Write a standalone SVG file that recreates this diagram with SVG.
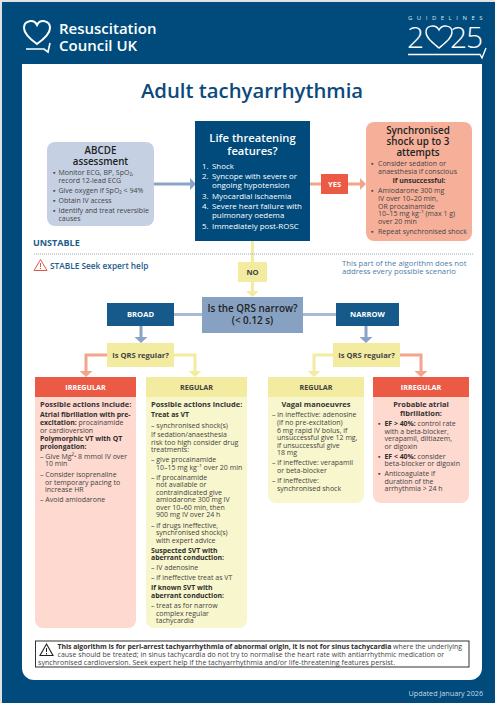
<svg xmlns="http://www.w3.org/2000/svg" width="495" height="703" viewBox="0 0 495 703">
<style>
text{font-family:"Open Sans","Noto Sans","Liberation Sans",sans-serif;font-size:7px;fill:#444}
.b{font-weight:700;fill:#2e2e2e;font-size:6.9px}
.c{text-anchor:middle}
.h{font-size:7.5px;font-weight:700;fill:#333}
.w{fill:#fff}
.l{fill:#fff;font-size:7.9px}
.lab{font-size:7.6px;font-weight:700;text-anchor:middle}
.sm{font-size:7.2px}
.t{font-size:9.8px;font-weight:600;fill:#222}
.note{font-size:7.7px;fill:#4b7da6}
.con{fill:none;stroke-width:3}
.blue{stroke:#8ba3c4}.sal{stroke:#f2a48c}.yel{stroke:#f2eba0}.pale{stroke:#a8bad4}
.hb{fill:#8ba3c4}.hs{fill:#f2a48c}.hy{fill:#f2eba0}
</style>
<rect width="495" height="703" fill="#dfe3e6"/>
<rect x="2" y="2" width="493" height="701" fill="#004b7c"/>
<path d="M22 64H482V668a12 12 0 0 1-12 12H34a12 12 0 0 1-12-12Z" fill="#fff"/>
<g id="logo" fill="none" stroke="#fff">
<path d="M37 44C30 39 24 34 24 28C24 20 34 19 37 25C40 19 50 20 50 28C50 34 44 39 37 44Z" stroke-width="2"/>
<path d="M26 49H44L48 52L50 43" stroke-width="1.600"/>
<text x="59" y="34" style="font-size:15px;font-weight:600;fill:#fff;stroke:none">Resuscitation</text>
<text x="59" y="50.500" style="font-size:15px;font-weight:600;fill:#fff;stroke:none">Council UK</text>
</g>
<g id="guidelines">
<text x="408" y="19.500" style="font-size:6px;fill:#dfe7ee;letter-spacing:4.500px">GUIDELINES</text>
<text x="407" y="48" style="font-size:30px;font-weight:300;fill:#fff">2</text>
<path d="M439 48C433 43 426 38 426 32C426 25 436 24 439 30C442 24 452 25 452 32C452 38 445 43 439 48Z" fill="none" stroke="#fff" stroke-width="1.400"/>
<text x="450" y="48" style="font-size:30px;font-weight:300;fill:#fff;letter-spacing:-1px">25</text>
<path d="M408 54.500H480L482 58L486 48" fill="none" stroke="#fff" stroke-width="1.400"/>
</g>
<text id="title" x="252" y="98" class="c" style="font-size:20.300px;font-weight:600;fill:#0c4a7c">Adult tachyarrhythmia</text>
<g id="connectors">
<path class="con blue" d="M154 184H191"/><path class="hb" d="M190 178L196 184L190 190Z"/>
<path class="con sal" d="M310 184H361"/><path class="hs" d="M360 178L366 184L360 190Z"/>
<path class="con yel" d="M252.500 241V291"/><path class="hy" d="M246 291H259L252.500 297Z"/>
<path class="con pale" d="M174 314.500H202M303 314.500H336"/>
<path class="con blue" d="M141 326V338M366 326V338"/><path class="hb" d="M134.500 337H147.500L141 343Z"/><path class="hb" d="M359.500 337H372.500L366 343Z"/>
<path class="con sal" d="M107 355H86V372M400 355H421V372"/><path class="hs" d="M79.500 371H92.500L86 377Z"/><path class="hs" d="M414.500 371H427.500L421 377Z"/>
<path class="con yel" d="M174 355H195V372M333 355H314V372"/><path class="hy" d="M188.500 371H201.500L195 377Z"/><path class="hy" d="M307.500 371H320.500L314 377Z"/>
</g>
<g id="abcde">
<rect x="47" y="142" width="107" height="84" rx="8" fill="#c5d1e3"/>
<text x="100.500" y="154" class="c t">ABCDE</text>
<text x="100.500" y="165" class="c t">assessment</text>
<text x="53" y="175">▪</text><text x="58.500" y="175">Monitor ECG, BP, SpO₂,</text><text x="58.500" y="182.500">record 12-lead ECG</text>
<text x="53" y="193">▪</text><text x="58.500" y="193">Give oxygen if SpO₂ &lt; 94%</text>
<text x="53" y="203">▪</text><text x="58.500" y="203">Obtain IV access</text>
<text x="53" y="213">▪</text><text x="58.500" y="213">Identify and treat reversible</text><text x="58.500" y="220.500">causes</text>
</g>
<g id="life">
<rect x="195" y="121" width="115" height="120" fill="#004b7c"/>
<text x="252.500" y="142" class="c" style="font-size:11.200px;font-weight:600;fill:#fff">Life threatening</text>
<text x="252.500" y="155" class="c" style="font-size:11.200px;font-weight:600;fill:#fff">features?</text>
<text x="202" y="169" class="l">1.</text><text x="212" y="169" class="l">Shock</text>
<text x="202" y="179" class="l">2.</text><text x="212" y="179" class="l">Syncope with severe or</text><text x="212" y="188" class="l">ongoing hypotension</text>
<text x="202" y="199" class="l">3.</text><text x="212" y="199" class="l">Myocardial ischaemia</text>
<text x="202" y="209" class="l">4.</text><text x="212" y="209" class="l">Severe heart failure with</text><text x="212" y="218" class="l">pulmonary oedema</text>
<text x="202" y="229" class="l">5.</text><text x="212" y="229" class="l">Immediately post-ROSC</text>
</g>
<g id="yes"><rect x="321" y="174" width="27" height="20" fill="#ea5a45"/><text x="334.500" y="187" class="lab w">YES</text></g>
<g id="shock">
<rect x="366" y="122" width="106" height="119" rx="8" fill="#f6b09a"/>
<text x="418" y="134" class="c t">Synchronised</text>
<text x="418" y="145" class="c t">shock up to 3</text>
<text x="418" y="156" class="c t">attempts</text>
<text x="371" y="166">▪</text><text x="378" y="166">Consider sedation or</text><text x="378" y="173.500">anaesthesia if conscious</text>
<text x="419" y="183" class="c b">If unsuccessful:</text>
<text x="371" y="193">▪</text><text x="378" y="193">Amiodarone 300 mg</text><text x="378" y="201">IV over 10–20 min,</text><text x="378" y="208.500">OR procainamide</text><text x="378" y="216">10–15 mg kg⁻¹ (max 1 g)</text><text x="378" y="223.500">over 20 min</text>
<text x="371" y="234">▪</text><text x="378" y="234">Repeat synchronised shock</text>
</g>
<g id="divider">
<text x="33" y="246" style="font-size:9px;font-weight:700;fill:#1c5c8c">UNSTABLE</text>
<path d="M34 254H473" stroke="#9aa8b5" stroke-width="1.200" stroke-dasharray="1 1" fill="none"/>
<path d="M40.500 259.500L47 270.500H34Z" fill="none" stroke="#e2564a" stroke-width="1"/><path d="M40.500 263V267M40.500 268V269" stroke="#e2564a" stroke-width="1"/>
<text x="50" y="269" style="font-size:8.300px;font-weight:600;fill:#1c5c8c">STABLE Seek expert help</text>
<text x="342" y="265.500" class="note">This part of the algorithm does not</text>
<text x="342" y="274" class="note">address every possible scenario</text>
</g>
<g id="no"><rect x="238" y="262" width="29" height="20" fill="#f2eba0"/><text x="252.500" y="275" class="lab">NO</text></g>
<g id="qrs"><rect x="202" y="297" width="101" height="36" fill="#87a1c2"/>
<text x="252.500" y="312" class="c" style="font-size:9.900px;font-weight:600;fill:#222">Is the QRS narrow?</text>
<text x="252.500" y="324" class="c" style="font-size:9.900px;font-weight:600;fill:#222">(&lt; 0.12 s)</text></g>
<g id="broad"><rect x="107" y="303" width="67" height="23" fill="#155a8a"/><text x="140.500" y="317" class="lab w">BROAD</text></g>
<g id="narrow"><rect x="336" y="303" width="63" height="23" fill="#155a8a"/><text x="367.500" y="317" class="lab w">NARROW</text></g>
<g id="regq1"><rect x="107" y="343" width="67" height="24" fill="#f2eba0"/><text x="140.500" y="357.500" class="lab">Is QRS regular?</text></g>
<g id="regq2"><rect x="333" y="343" width="67" height="24" fill="#f2eba0"/><text x="366.500" y="357.500" class="lab">Is QRS regular?</text></g>
<g id="col1">
<path d="M35 397H136V620a8 8 0 0 1-8 8H43a8 8 0 0 1-8-8Z" fill="#fdd9cf"/>
<rect x="35" y="377" width="101" height="20" fill="#ea5a45"/><text x="85.500" y="390" class="lab w sm">IRREGULAR</text>
<text x="40" y="406.500" class="h">Possible actions include:</text>
<text x="40" y="417" class="b">Atrial fibrillation with pre-</text>
<text x="40" y="425"><tspan class="b">excitation:</tspan> procainamide</text>
<text x="40" y="432.500">or cardioversion</text>
<text x="40" y="441" class="b">Polymorphic VT with QT</text>
<text x="40" y="448.500" class="b">prolongation:</text>
<text x="40" y="458.500">– Give Mg²⁺ 8 mmol IV over</text><text x="45" y="466">10 min</text>
<text x="40" y="477">– Consider isoprenaline</text><text x="45" y="484.500">or temporary pacing to</text><text x="45" y="492">increase HR</text>
<text x="40" y="502">– Avoid amiodarone</text>
</g>
<g id="col2">
<path d="M146 397H247V620a8 8 0 0 1-8 8H154a8 8 0 0 1-8-8Z" fill="#f8f6cc"/>
<rect x="146" y="377" width="101" height="20" fill="#f2eba0"/><text x="196.500" y="390" class="lab sm">REGULAR</text>
<text x="151" y="406.500" class="h">Possible actions include:</text>
<text x="151" y="417" class="b">Treat as VT</text>
<text x="151" y="427.500">– synchronised shock(s)</text>
<text x="151" y="437">If sedation/anaesthesia</text><text x="151" y="444.500">risk too high consider drug</text><text x="151" y="452">treatments:</text>
<text x="151" y="462">– give procainamide</text><text x="156" y="469.500">10–15 mg kg⁻¹ over 20 min</text>
<text x="151" y="479.500">– if procainamide</text><text x="156" y="487">not available or</text><text x="156" y="494.500">contraindicated give</text><text x="156" y="502">amiodarone 300 mg IV</text><text x="156" y="509.500">over 10–60 min, then</text><text x="156" y="517">900 mg IV over 24 h</text>
<text x="151" y="527.500">– if drugs ineffective,</text><text x="156" y="535">synchronised shock(s)</text><text x="156" y="542.500">with expert advice</text>
<text x="151" y="552.500" class="b">Suspected SVT with</text><text x="151" y="560" class="b">aberrant conduction:</text>
<text x="151" y="570">– IV adenosine</text>
<text x="151" y="580">– if ineffective treat as VT</text>
<text x="151" y="590" class="b">If known SVT with</text><text x="151" y="597.500" class="b">aberrant conduction:</text>
<text x="151" y="608">– treat as for narrow</text><text x="156" y="615.500">complex regular</text><text x="156" y="623">tachycardia</text>
</g>
<g id="col3">
<path d="M268 397H364V495a8 8 0 0 1-8 8H276a8 8 0 0 1-8-8Z" fill="#f8f6cc"/>
<rect x="268" y="377" width="96" height="20" fill="#f2eba0"/><text x="316" y="390" class="lab sm">REGULAR</text>
<text x="316" y="406.500" class="h c">Vagal manoeuvres</text>
<text x="272" y="417">– in ineffective: adenosine</text><text x="277" y="425">(if no pre-excitation)</text><text x="277" y="432.500">6 mg rapid IV bolus, if</text><text x="277" y="440">unsuccessful give 12 mg,</text><text x="277" y="447.500">if unsuccessful give</text><text x="277" y="455">18 mg</text>
<text x="272" y="465">– if ineffective: verapamil</text><text x="277" y="473">or beta-blocker</text>
<text x="272" y="483">– if ineffective:</text><text x="277" y="490.500">synchronised shock</text>
</g>
<g id="col4">
<path d="M373 397H469V495a8 8 0 0 1-8 8H381a8 8 0 0 1-8-8Z" fill="#fdd9cf"/>
<rect x="373" y="377" width="96" height="20" fill="#ea5a45"/><text x="421" y="390" class="lab w sm">IRREGULAR</text>
<text x="421" y="406.500" class="h c">Probable atrial</text><text x="421" y="416" class="h c">fibrillation:</text>
<text x="378" y="426">▪</text><text x="384.500" y="426"><tspan class="b">EF &gt; 40%:</tspan> control rate</text><text x="384.500" y="433.500">with a beta-blocker,</text><text x="384.500" y="441">verapamil, diltiazem,</text><text x="384.500" y="448.500">or digoxin</text>
<text x="378" y="458.500">▪</text><text x="384.500" y="458.500"><tspan class="b">EF &lt; 40%:</tspan> consider</text><text x="384.500" y="466">beta-blocker or digoxin</text>
<text x="378" y="476">▪</text><text x="384.500" y="476">Anticoagulate if</text><text x="384.500" y="483.500">duration of the</text><text x="384.500" y="491">arrhythmia &gt; 24 h</text>
</g>
<g id="footnote">
<rect x="35.500" y="641" width="433.500" height="26" fill="#fff" stroke="#333" stroke-width="1"/>
<path d="M46.500 644L53 655.500H40Z" fill="none" stroke="#222" stroke-width="1.100"/><path d="M46.500 648V652M46.500 653V654.500" stroke="#222" stroke-width="1"/>
<text x="57.500" y="649" textLength="404.500"><tspan class="b">This algorithm is for peri-arrest tachyarrhythmia of abnormal origin, it is not for sinus tachycardia</tspan> where the underlying</text>
<text x="57.500" y="657" textLength="386.500">cause should be treated; in sinus tachycardia do not try to normalise the heart rate with antiarrhythmic medication or</text>
<text x="38" y="664.500" textLength="357">synchronised cardioversion. Seek expert help if the tachyarrhythmia and/or life-threatening features persist.</text>
</g>
<text id="updated" x="483" y="696" style="font-size:7.200px;fill:#c9d7e4;text-anchor:end">Updated January 2026</text>
</svg>
